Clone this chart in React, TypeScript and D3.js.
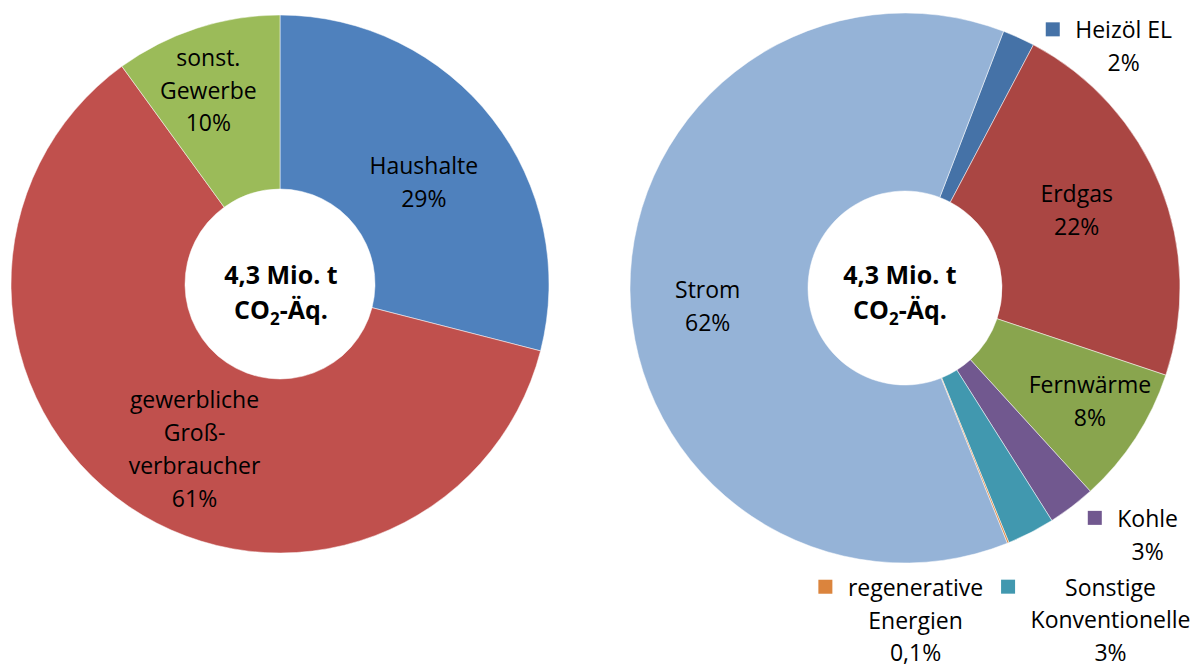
import React, { useEffect, useRef } from 'react';
import * as d3 from 'd3';

// ---------- data ----------
const sectorLabelLines: string[][] = [['Haushalte'], ['gewerbliche', 'Groß-', 'verbraucher'], ['sonst.', 'Gewerbe']];
const sectorValues: number[] = [29, 61, 10];
const sectorColors: string[] = ['#4F81BD', '#C0504D', '#9BBB59'];
const sectorLegendKey: boolean[] = [false, false, false];

const carrierLabelLines: string[][] = [
  ['Heizöl EL'],
  ['Erdgas'],
  ['Fernwärme'],
  ['Kohle'],
  ['Sonstige', 'Konventionelle'],
  ['regenerative', 'Energien'],
  ['Strom'],
];
const carrierValues: number[] = [1.9, 22.4, 8.1, 2.8, 2.8, 0.1, 61.9];
const carrierColors: string[] = ['#4572A7', '#AA4643', '#89A54E', '#71588F', '#4198AF', '#DB843D', '#95B3D7'];
const carrierLegendKey: boolean[] = [true, false, false, true, true, true, false];

const totalText = '4,3 Mio. t';
const unitParts = ['CO', '2', '-Äq.'];

// ---------- layout ----------
const W = 1194;
const H = 668;
const FONT = "'Open Sans', 'Noto Sans', sans-serif";
const LABEL_SIZE = 23;
const LH = 32.8;

const leftLayout = {
  cx: 280, cy: 284, rOuter: 269, rInner: 95, startDeg: 0,
  totalDx: 1, totalBaseline: -0.5,
  nudges: [[0, 10], [16.8, 15], [-15.4, -20.4]] as [number, number][],
};
const rightLayout = {
  cx: 905, cy: 288, rOuter: 275, rInner: 97, startDeg: 21,
  totalDx: -5, totalBaseline: -4.5,
  nudges: [[141.8, -71.9], [-1, -8.5], [29, 12], [129.9, 99.35], [120.4, 167.1], [-59.2, 160.1], [-11.3, 16.9]] as [number, number][],
};

const fmtPct = (v: number) =>
  v < 1 ? d3.format('.1f')(v).replace('.', ',') + '%' : Math.round(v) + '%';

function drawDonut(
  svg: d3.Selection<SVGSVGElement, unknown, null, undefined>,
  values: number[],
  labelLines: string[][],
  colors: string[],
  keys: boolean[],
  L: typeof leftLayout,
) {
  const start = (L.startDeg * Math.PI) / 180;
  const pie = d3.pie<number>().value((d) => d).sort(null).startAngle(start).endAngle(start + 2 * Math.PI);
  const arcs = pie(values);
  const arc = d3.arc<d3.PieArcDatum<number>>().innerRadius(L.rInner).outerRadius(L.rOuter);
  const g = svg.append('g').attr('transform', `translate(${L.cx},${L.cy})`);

  g.selectAll('path.slice')
    .data(arcs)
    .join('path')
    .attr('class', 'slice')
    .attr('d', arc as any)
    .attr('fill', (_d, i) => colors[i])
    .attr('stroke', '#ffffff')
    .attr('stroke-width', 0.5);

  arcs.forEach((a, i) => {
    const [x, y] = arc.centroid(a);
    const lines = [...labelLines[i], fmtPct(values[i])];
    const n = lines.length;
    const [ndx, ndy] = L.nudges[i];
    const tx = x + ndx;
    const y0 = y - ((n - 1) * LH) / 2 + 8 + ndy;
    const t = g
      .append('text')
      .attr('text-anchor', 'middle')
      .attr('font-family', FONT)
      .attr('font-size', LABEL_SIZE)
      .attr('fill', '#000');
    lines.forEach((s, j) => {
      t.append('tspan').attr('x', tx).attr('y', y0 + j * LH).text(s);
    });
    if (keys[i]) {
      const nodes = t.selectAll<SVGTSpanElement, unknown>('tspan').nodes();
      const maxW = d3.max(nodes, (nd) => nd.getComputedTextLength()) || 0;
      g.append('rect')
        .attr('x', tx - maxW / 2 - 15.5 - 14)
        .attr('y', y0 - 16)
        .attr('width', 14)
        .attr('height', 14)
        .attr('fill', colors[i]);
    }
  });

  const ct = g
    .append('text')
    .attr('text-anchor', 'middle')
    .attr('font-family', FONT)
    .attr('font-weight', 'bold')
    .attr('font-size', 25)
    .attr('fill', '#000');
  ct.append('tspan').attr('x', L.totalDx).attr('y', L.totalBaseline).text(totalText);
  ct.append('tspan').attr('x', L.totalDx).attr('y', L.totalBaseline + 35).text(unitParts[0]);
  ct.append('tspan').attr('font-size', 17).attr('dy', 6).text(unitParts[1]);
  ct.append('tspan').attr('font-size', 25).attr('dy', -6).text(unitParts[2]);
}

export default function App() {
  const ref = useRef<SVGSVGElement>(null);
  useEffect(() => {
    if (!ref.current) return;
    const svg = d3.select(ref.current);
    svg.selectAll('*').remove();
    svg.append('rect').attr('width', W).attr('height', H).attr('fill', '#ffffff');
    drawDonut(svg, sectorValues, sectorLabelLines, sectorColors, sectorLegendKey, leftLayout);
    drawDonut(svg, carrierValues, carrierLabelLines, carrierColors, carrierLegendKey, rightLayout);
  }, []);
  return (
    <svg
      ref={ref}
      width={W}
      height={H}
      style={{ position: 'absolute', left: 0, top: 0, display: 'block' }}
    />
  );
}
